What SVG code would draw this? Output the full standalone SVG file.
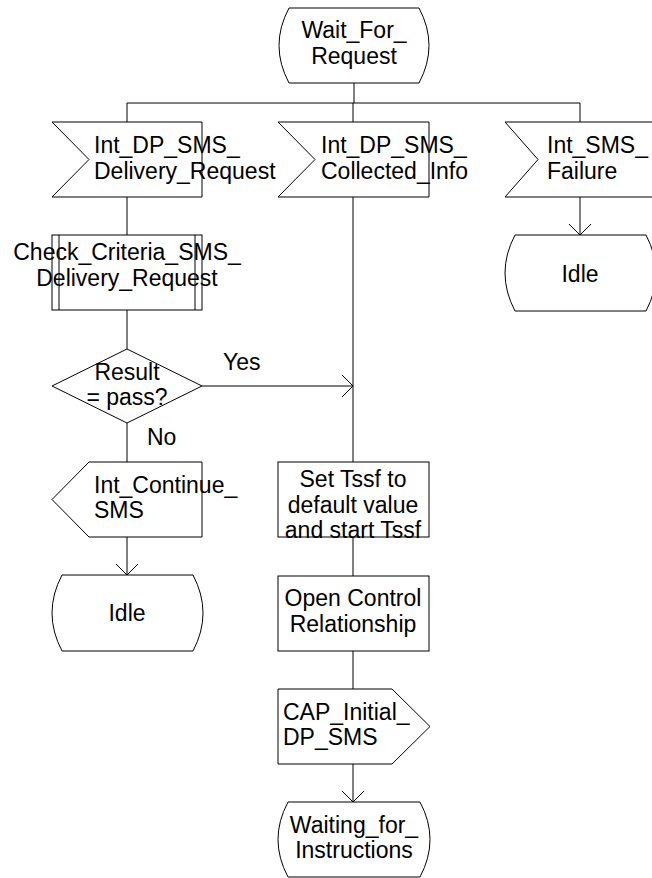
<svg xmlns="http://www.w3.org/2000/svg" width="652" height="878" viewBox="0 0 652 878">
<style>
.s{fill:#fff;stroke:#000;stroke-width:1}
.l{fill:none;stroke:#000;stroke-width:1}
text{font-family:"Liberation Sans",Arial,sans-serif;font-size:23px;fill:#000}
.c{text-anchor:middle}
</style>
<defs>
<marker id="arr" viewBox="-12 -12 13 24" refX="0" refY="0" markerWidth="13" markerHeight="24" markerUnits="userSpaceOnUse" orient="auto" overflow="visible">
<path d="M-11,-11 L0,0 L-11,11" fill="none" stroke="#000" stroke-width="1"/>
</marker>
</defs>
<rect width="652" height="878" fill="#fff"/>
<g id="connectors">
<path class="l" d="M354,83 V103"/>
<path class="l" d="M127,103 H580"/>
<path class="l" d="M127,103 V122 M353,103 V122 M580,103 V122"/>
<path class="l" d="M127,197 V235"/>
<path class="l" d="M127,310 V349"/>
<path class="l" d="M202,386 H353" marker-end="url(#arr)"/>
<path class="l" d="M127,423 V462"/>
<path class="l" d="M127,537 V575" marker-end="url(#arr)"/>
<path class="l" d="M353,197 V462"/>
<path class="l" d="M353,537 V576"/>
<path class="l" d="M353,651 V689"/>
<path class="l" d="M353,764 V802" marker-end="url(#arr)"/>
<path class="l" d="M580,197 V235" marker-end="url(#arr)"/>
<text x="223" y="370">Yes</text>
<text x="147" y="445">No</text>
</g>
<g id="wait_for_request">
<path class="s" d="M289,8 H419 Q439,45.5 419,83 H289 Q269,45.5 289,8 Z"/>
<text class="c" x="354" y="38">Wait_For_</text>
<text class="c" x="354" y="64">Request</text>
</g>
<g id="int_dp_sms_delivery_request">
<path class="s" d="M52,122 H202 V197 H52 L89,159.5 Z"/>
<text x="94" y="153">Int_DP_SMS_</text>
<text x="94" y="179">Delivery_Request</text>
</g>
<g id="int_dp_sms_collected_info">
<path class="s" d="M278,122 H429 V197 H278 L315,159.5 Z"/>
<text x="321" y="153">Int_DP_SMS_</text>
<text x="321" y="179">Collected_Info</text>
</g>
<g id="int_sms_failure">
<path class="s" d="M505,122 H656 V197 H505 L538,159.5 Z"/>
<text x="547" y="153">Int_SMS_</text>
<text x="547" y="179">Failure</text>
</g>
<g id="idle_right">
<path class="s" d="M515,235 H646 Q666,273 646,311 H515 Q495,273 515,235 Z"/>
<text class="c" x="580" y="282">Idle</text>
</g>
<g id="check_criteria">
<rect class="s" x="52" y="235" width="150" height="75"/>
<path class="l" d="M59,235 V310 M195,235 V310"/>
<text class="c" x="127" y="260">Check_Criteria_SMS_</text>
<text class="c" x="127" y="286">Delivery_Request</text>
</g>
<g id="result_decision">
<path class="s" d="M127,349 L202,386 L127,423 L52,386 Z"/>
<text class="c" x="127" y="380">Result</text>
<text class="c" x="127" y="405">= pass?</text>
</g>
<g id="int_continue_sms">
<path class="s" d="M89,462 H202 V537 H89 L52,499.5 Z"/>
<text x="94" y="493">Int_Continue_</text>
<text x="94" y="518">SMS</text>
</g>
<g id="idle_left">
<path class="s" d="M62,575 H193 Q213,613 193,651 H62 Q42,613 62,575 Z"/>
<text class="c" x="127" y="621">Idle</text>
</g>
<g id="set_tssf">
<rect class="s" x="278" y="462" width="151" height="75"/>
<text class="c" x="353" y="487">Set Tssf to</text>
<text class="c" x="353" y="513">default value</text>
<text class="c" x="353" y="538">and start Tssf</text>
</g>
<g id="open_control_relationship">
<rect class="s" x="278" y="576" width="151" height="75"/>
<text class="c" x="353" y="606">Open Control</text>
<text class="c" x="353" y="632">Relationship</text>
</g>
<g id="cap_initial_dp_sms">
<path class="s" d="M278,689 H392 L430,726.5 L392,764 H278 Z"/>
<text x="283" y="720">CAP_Initial_</text>
<text x="283" y="745">DP_SMS</text>
</g>
<g id="waiting_for_instructions">
<path class="s" d="M288,802 H420 Q440,839.5 420,877 H288 Q268,839.5 288,802 Z"/>
<text class="c" x="354" y="833">Waiting_for_</text>
<text class="c" x="354" y="858">Instructions</text>
</g>
</svg>
